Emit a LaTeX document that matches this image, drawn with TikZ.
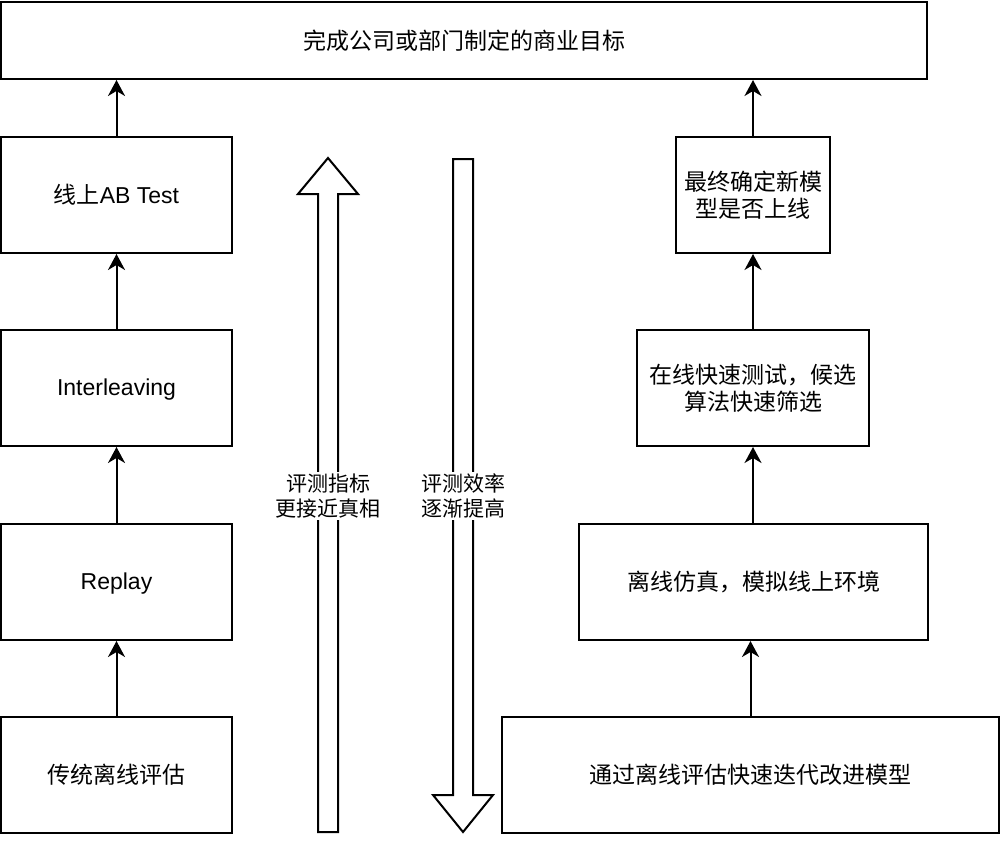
\documentclass[tikz,border=0pt]{standalone}
\usepackage{fontspec}
\setmainfont{Liberation Sans}
\newfontfamily\cjk{Noto Sans CJK SC}
\usetikzlibrary{arrows.meta}
\begin{document}
\begin{tikzpicture}[x=1pt,y=-1pt,
  box/.style={draw=black,line width=2pt,fill=white,inner sep=0pt,align=center,
    font=\fontsize{23}{27}\selectfont\cjk},
  conn/.style={line width=2pt,-{Stealth[length=16pt,width=17pt,inset=5pt]}},
  blk/.style={draw=black,line width=2pt,fill=white,line join=miter},
  side/.style={fill=white,inner sep=2pt,align=center,font=\fontsize{21}{25}\selectfont\cjk}]
\useasboundingbox (0,0) rectangle (1008,840);

% block arrows
\draw[blk] (318,832) -- (318,194) -- (298,194) -- (328,158) -- (358,194) -- (338,194) -- (338,832) -- cycle;
\draw[blk] (453,159) -- (473,159) -- (473,795) -- (493,795) -- (463,832) -- (433,795) -- (453,795) -- cycle;
\node[side] (lblA) at (328,496) {评测指标\\更接近真相};
\node[side] (lblB) at (463,496) {评测效率\\逐渐提高};

% boxes
\node[box,minimum width=926pt,minimum height=77pt] (top) at (464,40.5) {完成公司或部门制定的商业目标};

\node[box,minimum width=231pt,minimum height=116pt] (ab) at (116.5,195) {线上{\rmfamily AB Test}};
\node[box,minimum width=231pt,minimum height=116pt] (inter) at (116.5,388) {\vphantom{线}{\rmfamily Interleaving}};
\node[box,minimum width=231pt,minimum height=116pt] (replay) at (116.5,582) {\vphantom{线}{\rmfamily Replay}};
\node[box,minimum width=231pt,minimum height=116pt] (trad) at (116.5,775) {传统离线评估};

\node[box,minimum width=154pt,minimum height=116pt] (final) at (753,195) {最终确定新模\\型是否上线};
\node[box,minimum width=232pt,minimum height=116pt] (online) at (753,388) {在线快速测试，候选\\算法快速筛选};
\node[box,minimum width=349pt,minimum height=116pt] (sim) at (753.5,582) {离线仿真，模拟线上环境};
\node[box,minimum width=497pt,minimum height=116pt] (iter) at (750.5,775) {通过离线评估快速迭代改进模型};

% connectors
\draw[conn] (trad.north) -- (replay.south);
\draw[conn] (replay.north) -- (inter.south);
\draw[conn] (inter.north) -- (ab.south);
\draw[conn] (ab.north) -- (ab.north |- top.south);

\draw[conn] (iter.north) -- (iter.north |- sim.south);
\draw[conn] (sim.north -| online.south) -- (online.south);
\draw[conn] (online.north) -- (final.south);
\draw[conn] (final.north) -- (final.north |- top.south);
\end{tikzpicture}
\end{document}
